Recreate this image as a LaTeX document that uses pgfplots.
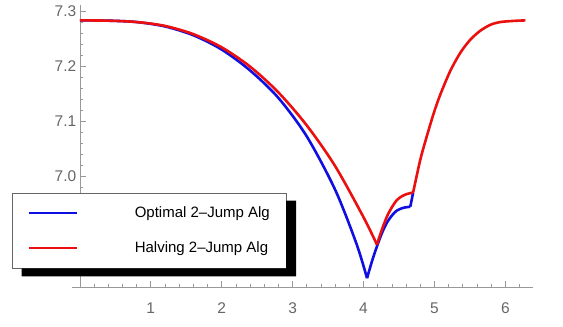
\documentclass[border=0pt]{standalone}
\usepackage{pgfplots}
\pgfplotsset{compat=1.18}
\usepackage{fontspec}
\setmainfont{Liberation Sans}

\definecolor{optblue}{RGB}{15,15,225}
\definecolor{halfred}{RGB}{235,15,15}

\begin{document}
\begin{tikzpicture}
\useasboundingbox (-72pt,-40pt) rectangle (491pt,287pt);
\begin{axis}[
  scale only axis,
  width=461pt, height=282pt,
  xmin=-0.11, xmax=6.39,
  ymin=6.798, ymax=7.311,
  axis lines=middle,
  axis line style={-, black!40, line width=0.6pt},
  every inner x axis line/.append style={-},
  every inner y axis line/.append style={-},
  xtick={1,2,3,4,5,6},
  minor xtick={0.2,0.4,...,6.21},
  ytick={7.0,7.1,7.2,7.3},
  minor ytick={6.82,6.84,...,7.301},
  tick align=inside,
  major tick length=6pt,
  minor tick length=3.5pt,
  tick style={black!40, line width=0.6pt},
  ticklabel style={font=\fontsize{15.5}{18}\selectfont, text=black!60},
  /pgf/number format/assume math mode=true,
  yticklabel style={/pgf/number format/fixed, /pgf/number format/fixed zerofill,
    /pgf/number format/precision=1},
  xticklabel shift=12pt,
  legend cell align=left,
  legend image code/.code={\draw[#1, line width=1.8pt] (0pt,0pt) -- (48pt,0pt);},
  legend style={name=leg, at={(-0.1308,0.0663)}, anchor=south west,
    draw=black!60, line width=0.6pt, fill=white,
    inner xsep=16pt, inner ysep=13pt, row sep=21pt,
    font=\fontsize{15}{18}\selectfont,
    nodes={inner sep=0pt, text height=11pt, text depth=3pt},
    /tikz/every odd column/.append style={column sep=57pt}},
]
% Optimal 2-Jump Alg (blue)
\addplot[optblue, line width=2.6pt, smooth] coordinates {
  (0,7.283) (0.4,7.2825) (0.8,7.280) (1.2,7.272) (1.6,7.256) (2.0,7.230)
  (2.4,7.192) (2.8,7.142) (3.2,7.072) (3.6,6.975) (3.9,6.877) (4.05,6.814)};
\addlegendentry{Optimal 2\textendash Jump Alg}
\addplot[optblue, line width=2.6pt, smooth, forget plot] coordinates {
  (4.05,6.814) (4.12,6.845) (4.19,6.872) (4.26,6.896) (4.33,6.915)
  (4.40,6.928) (4.47,6.937) (4.56,6.942) (4.66,6.944)};
\addplot[optblue, line width=2.6pt, forget plot] coordinates {
  (4.66,6.944) (4.70,6.970)};
% Halving 2-Jump Alg (red)
\addplot[halfred, line width=2.6pt, smooth] coordinates {
  (0,7.283) (0.4,7.2825) (0.8,7.280) (1.2,7.273) (1.6,7.258) (2.0,7.234)
  (2.4,7.199) (2.8,7.152) (3.2,7.092) (3.6,7.018) (4.0,6.925) (4.19,6.875)};
\addlegendentry{Halving 2\textendash Jump Alg}
\addplot[halfred, line width=2.6pt, smooth, forget plot] coordinates {
  (4.19,6.875) (4.25,6.899) (4.33,6.926) (4.40,6.943) (4.47,6.956)
  (4.54,6.963) (4.61,6.967) (4.70,6.970)};
\addplot[halfred, line width=2.6pt, smooth, forget plot] coordinates {
  (4.70,6.970) (4.80,7.029) (4.89,7.071) (4.99,7.114) (5.08,7.147)
  (5.22,7.190) (5.36,7.223) (5.50,7.247) (5.645,7.264) (5.79,7.275)
  (5.93,7.280) (6.11,7.282) (6.283,7.283)};
\end{axis}
% legend shadow (visible L-shaped part only)
\fill[black] ([xshift=10pt]leg.south west) -- ([xshift=10pt,yshift=-8pt]leg.south west)
  -- ([xshift=10pt,yshift=-8pt]leg.south east) -- ([xshift=10pt,yshift=-8pt]leg.north east)
  -- ([yshift=-8pt]leg.north east) -- (leg.south east) -- cycle;
\end{tikzpicture}
\end{document}
